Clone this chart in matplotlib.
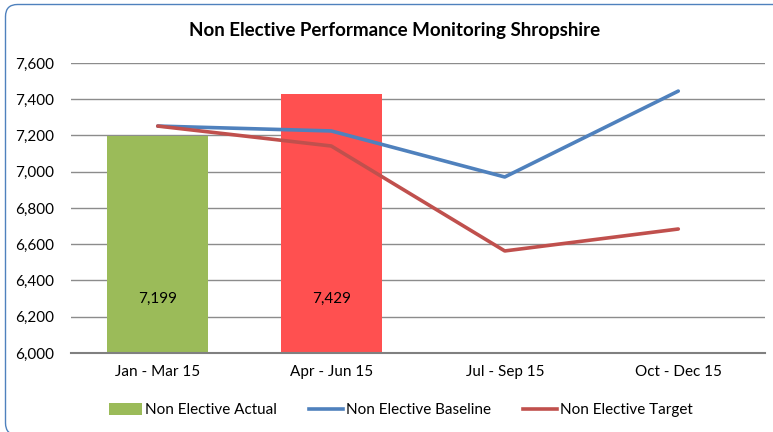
import matplotlib
matplotlib.use("Agg")
import matplotlib.pyplot as plt
from matplotlib.patches import FancyBboxPatch, Patch
from matplotlib.lines import Line2D
from matplotlib.ticker import FuncFormatter
from matplotlib.transforms import IdentityTransform

categories = ["Jan - Mar 15", "Apr - Jun 15", "Jul - Sep 15", "Oct - Dec 15"]
actual = [7199, 7429]
baseline = [7252, 7225, 6971, 7445]
target = [7252, 7142, 6563, 6684]
bar_colors = ["#9BBB59", "#FF5050"]

plt.rcParams['font.family'] = ['Lato', 'DejaVu Sans']

fig = plt.figure(figsize=(7.73, 4.32), dpi=100)
fig.patch.set_facecolor("white")
border = FancyBboxPatch((5.5, -3), 780, 430.5, boxstyle="round,pad=0,rounding_size=12",
                        transform=IdentityTransform(), facecolor="none", edgecolor="#4F81BD", lw=1.0)
fig.patches.append(border)

ax = fig.add_axes([0.0918, 0.1829, 0.8979, 0.6713])
x = list(range(len(categories)))
ax.bar(x[:len(actual)], [a - 6000 for a in actual], bottom=6000, width=0.58,
       color=bar_colors, zorder=2)
for i, v in enumerate(actual):
    ax.text(i, 6300, f"{v:,}", ha="center", va="center", fontsize=11, zorder=3)
ax.plot(x, baseline, color="#4F81BD", lw=2.6, zorder=4, solid_capstyle="round")
ax.plot(x, target, color="#C0504D", lw=2.6, zorder=4, solid_capstyle="round")

ax.set_xlim(-0.5, len(categories) - 0.5)
ax.set_ylim(6000, 7600)
ax.set_yticks(range(6000, 7601, 200))
ax.yaxis.set_major_formatter(FuncFormatter(lambda v, p: f"{int(v):,}"))
ax.set_xticks(x)
ax.set_xticklabels(categories)
ax.grid(axis="y", color="#8C8C8C", lw=1.0, zorder=0)
for s in ["top", "right", "left"]:
    ax.spines[s].set_visible(False)
ax.spines["bottom"].set_color("#808080")
ax.spines["bottom"].set_linewidth(1.5)
ax.tick_params(axis="y", length=0, labelsize=11, pad=12)
ax.tick_params(axis="x", length=0, labelsize=11, pad=9)

fig.text(0.51, 0.93, "Non Elective Performance Monitoring Shropshire", ha="center", va="center",
         fontsize=13.5, fontweight="bold")

handles = [Patch(facecolor="#9BBB59", label="Non Elective Actual"),
           Line2D([], [], color="#4F81BD", lw=2.6, label="Non Elective Baseline"),
           Line2D([], [], color="#C0504D", lw=2.6, label="Non Elective Target")]
fig.legend(handles=handles, loc="center", bbox_to_anchor=(0.518, 0.05), ncol=3, frameon=False,
           fontsize=11, handlelength=2.2, handleheight=0.8, handletextpad=0.2, columnspacing=2.1)

fig.savefig("out.png", dpi=100)
